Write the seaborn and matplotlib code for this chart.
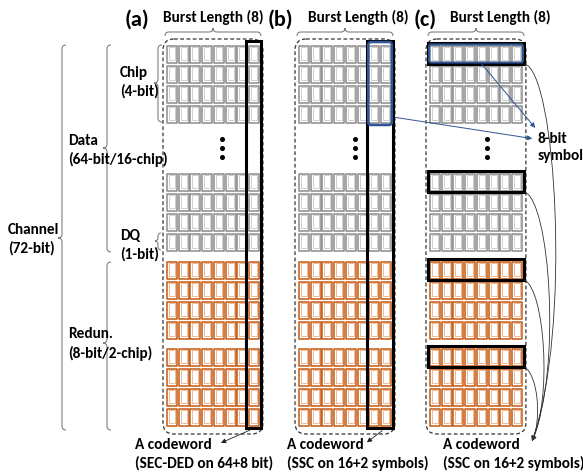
import numpy as np
import pandas as pd
import matplotlib
matplotlib.use('Agg')
import matplotlib.pyplot as plt
import seaborn as sns
from matplotlib.path import Path
from matplotlib.patches import Rectangle, FancyBboxPatch, PathPatch, FancyArrowPatch

# Diagram content
panel_tags = ['(a)', '(b)', '(c)']
burst_length = 8
chip_kinds = ['data', 'data', 'redun', 'redun']   # chip 1, chip 16, chip 17, chip 18
dq_per_chip = 4
burst_title = 'Burst Length (8)'
codeword_title = 'A codeword'
codeword_notes = ['(SEC-DED on 64+8 bit)', '(SSC on 16+2 symbols)', '(SSC on 16+2 symbols)']
column_codeword = [[7], [6, 7]]          # beats covered by the codeword in (a) and (b)
symbol_beats = [6, 7]                    # 8-bit symbol in (b): 2 beats x 4 DQ
row_codeword_chips = [0, 1, 2, 3]        # (c): first DQ row of every chip
left_labels = [('Chip', '(4-bit)'), ('Data', '(64-bit/16-chip)'), ('Channel', '(72-bit)'),
               ('DQ', '(1-bit)'), ('Redun.', '(8-bit/2-chip)')]
symbol_label = ['8-bit', 'symbol']

# Layout in pixels
W, H, DPI = 583, 475, 100
panel_x = [167, 299, 430]
chip_top = [45, 173, 261, 348]
col_pitch, row_pitch = 11.7, 20
cell_w, cell_h = 10, 17
dots_x = [222, 355, 487]
tag_x = [125, 268, 414]
burst_x = [163, 308, 450]
note_x = [135, 287, 443]
kind_edge = {'data': '#8c8c8c', 'redun': '#c55a11'}
kind_inner = {'data': '#c8c8c8', 'redun': '#e8b08a'}
blue = '#2f5597'
brace_col = '#808080'

sns.set_theme(style='white')
plt.rcParams['font.family'] = ['Carlito', 'DejaVu Sans']
FS = 11

# one row per DRAM cell
cells = pd.DataFrame(
    [(p, c, k, r, b) for p in range(len(panel_tags))
     for c, k in enumerate(chip_kinds) for r in range(dq_per_chip) for b in range(burst_length)],
    columns=['panel', 'chip', 'kind', 'dq', 'beat'])
cells['x'] = cells['panel'].map(dict(enumerate(panel_x))) + cells['beat'] * col_pitch + cell_w / 2
cells['y'] = cells['chip'].map(dict(enumerate(chip_top))) + cells['dq'] * row_pitch + cell_h / 2


def rect_path(w, h):
    return Path([(-w / 2, -h / 2), (w / 2, -h / 2), (w / 2, h / 2), (-w / 2, h / 2), (-w / 2, -h / 2)],
                closed=True)


def beat_x(p, b):
    return panel_x[p] + b * col_pitch


def row_y(c, r):
    return chip_top[c] + r * row_pitch


def vbrace(ax, x, y0, y1, ym, r=4):
    verts = [(x + r, y0), (x, y0), (x, y0 + r), (x, ym - r), (x, ym), (x - r, ym),
             (x, ym), (x, ym + r), (x, y1 - r), (x, y1), (x + r, y1)]
    codes = [Path.MOVETO, Path.CURVE3, Path.CURVE3, Path.LINETO, Path.CURVE3, Path.CURVE3,
             Path.CURVE3, Path.CURVE3, Path.LINETO, Path.CURVE3, Path.CURVE3]
    ax.add_patch(PathPatch(Path(verts, codes), fc='none', ec=brace_col, lw=0.8))


def hbrace(ax, x0, x1, xm, y, r=4):
    verts = [(x0, y + r), (x0, y), (x0 + r, y), (xm - r, y), (xm, y), (xm, y - r),
             (xm, y), (xm + r, y), (x1 - r, y), (x1, y), (x1, y + r)]
    codes = [Path.MOVETO, Path.CURVE3, Path.CURVE3, Path.LINETO, Path.CURVE3, Path.CURVE3,
             Path.CURVE3, Path.CURVE3, Path.LINETO, Path.CURVE3, Path.CURVE3]
    ax.add_patch(PathPatch(Path(verts, codes), fc='none', ec=brace_col, lw=0.8))


def label(x, y, s, size=FS):
    ax.text(x, y, s, fontsize=size, fontweight='bold', va='center', ha='left', color='black')


fig = plt.figure(figsize=(W / DPI, H / DPI), dpi=DPI)
ax = fig.add_axes([0, 0, 1, 1])
ax.set_xlim(0, W)
ax.set_ylim(H, 0)
ax.axis('off')

# cells: outer outline plus a faint inner outline
s_outer = (cell_h * 72 / DPI) ** 2
s_inner = ((cell_h - 4) * 72 / DPI) ** 2
for kind, grp in cells.groupby('kind'):
    sns.scatterplot(data=grp, x='x', y='y', marker=rect_path(cell_w, cell_h), s=s_outer,
                    color='white', edgecolor=kind_edge[kind], linewidth=1.1, ax=ax, legend=False, zorder=3)
    sns.scatterplot(data=grp, x='x', y='y', marker=rect_path(cell_w - 4, cell_h - 4), s=s_inner,
                    color='none', edgecolor=kind_inner[kind], linewidth=0.6, ax=ax, legend=False, zorder=3)

top = chip_top[0]
bottom = chip_top[-1] + (dq_per_chip - 1) * row_pitch + cell_h
for p, tag in enumerate(panel_tags):
    x0 = panel_x[p]
    x1 = beat_x(p, burst_length - 1) + cell_w
    # dashed rounded frame
    ax.add_patch(FancyBboxPatch((x0 - 4, top - 6), x1 - x0 + 8, bottom - top + 15,
                                boxstyle='round,pad=0,rounding_size=11', fc='none', ec='#333333',
                                lw=0.9, ls=(0, (3, 2)), zorder=2))
    hbrace(ax, x0 - 2, x1 + 2, (x0 + x1) / 2, 32)
    # vertical dots between chip 1 and chip 16
    for yd in (139, 148, 157):
        ax.plot(dots_x[p], yd, 'o', ms=2.6, color='black')
    label(tag_x[p], 20, tag, size=16)
    label(burst_x[p], 17, burst_title)
    label(note_x[p], 445, codeword_title)
    label(note_x[p], 463, codeword_notes[p])

# (a) and (b): column codewords
for p, beats in enumerate(column_codeword):
    xa = beat_x(p, beats[0]) - 2.5
    xb = beat_x(p, beats[-1]) + cell_w + 2.5
    ax.add_patch(Rectangle((xa, top - 4), xb - xa, bottom - top + 7, fc='none', ec='black', lw=2.2, zorder=5))
    ax.add_patch(FancyArrowPatch((xb - 9, bottom + 4), (xa - 28 if p == 0 else xa - 2, 444),
                                 arrowstyle='-|>', mutation_scale=7, lw=0.6, color='#222222', zorder=5))

# (b): 8-bit symbol
xa = beat_x(1, symbol_beats[0]) - 1
xb = beat_x(1, symbol_beats[-1]) + cell_w + 1
ax.add_patch(FancyBboxPatch((xa, top - 3), xb - xa, row_y(0, dq_per_chip - 1) + cell_h + 3 - (top - 3),
                            boxstyle='round,pad=0,rounding_size=3', fc='none', ec=blue, lw=1.8, zorder=6))

# (c): row codewords
xa = beat_x(2, 0) - 2.5
xb = beat_x(2, burst_length - 1) + cell_w + 2.5
curve_ctrl = [((556, 70), (572, 330)), ((550, 200), (562, 370)), ((545, 290), (552, 400)), ((538, 375), (542, 420))]
for i, c in enumerate(row_codeword_chips):
    ya = row_y(c, 0) - 2
    yb = row_y(c, 0) + cell_h + 2
    ax.add_patch(Rectangle((xa, ya), xb - xa, yb - ya, fc='none', ec='black', lw=2.2, zorder=5))
    if i == 0:
        ax.add_patch(FancyBboxPatch((xa + 1.5, ya + 1.5), xb - xa - 3, yb - ya - 3,
                                    boxstyle='round,pad=0,rounding_size=2', fc='none', ec=blue, lw=1.5, zorder=6))
    c1, c2 = curve_ctrl[i]
    path = Path([(xb, yb), c1, c2, (532, 441)], [Path.MOVETO, Path.CURVE4, Path.CURVE4, Path.CURVE4])
    ax.add_patch(FancyArrowPatch(path=path, arrowstyle='-|>', mutation_scale=7, lw=0.6, color='#333333', zorder=5))

# arrows to the "8-bit symbol" label
ax.add_patch(FancyArrowPatch((beat_x(1, 7) + cell_w + 2, row_y(0, 3) + 12), (535, 139),
                             arrowstyle='-|>', mutation_scale=7, lw=0.7, color=blue, zorder=7))
ax.add_patch(FancyArrowPatch((480, 62), (537, 130),
                             arrowstyle='-|>', mutation_scale=7, lw=0.7, color=blue, zorder=7))
label(538, 139, symbol_label[0])
label(538, 156, symbol_label[1])

# left hand braces and labels
vbrace(ax, 158, 45, 122, 83)
vbrace(ax, 107, 45, 252, 148)
vbrace(ax, 62, 45, 430, 238)
vbrace(ax, 158, 233, 250, 241, r=3)
vbrace(ax, 107, 262, 430, 343)
label_pos = [(120, 73, 91), (68, 141, 159), (8, 230, 248), (120, 236, 254), (68, 334, 353)]
for (l1, l2), (lx, y1, y2) in zip(left_labels, label_pos):
    label(lx, y1, l1)
    label(lx, y2, l2)

fig.savefig('out.png', dpi=DPI)
